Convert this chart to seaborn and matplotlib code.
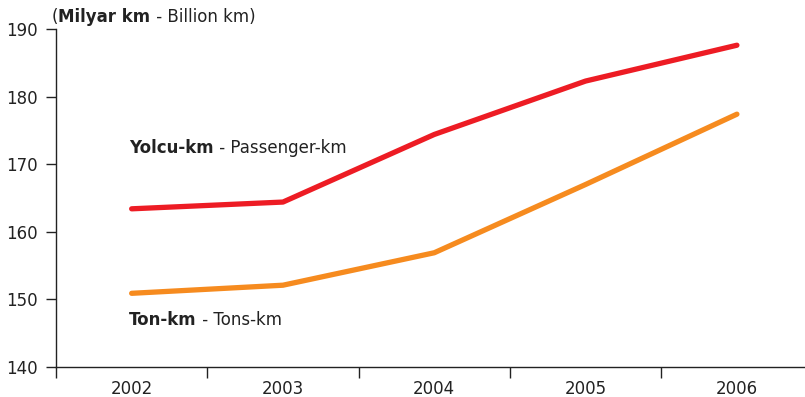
import matplotlib
matplotlib.use("Agg")
import matplotlib.pyplot as plt
import seaborn as sns
import pandas as pd

years = ["2002", "2003", "2004", "2005", "2006"]
passenger_km = [163.4, 164.4, 174.4, 182.3, 187.6]
tons_km = [150.9, 152.1, 156.9, 167.0, 177.4]

sns.set_style("white")
plt.rcParams["font.family"] = ["DejaVu Sans"]

INK = "#222222"

df = pd.DataFrame({
    "year": years * 2,
    "pos": list(range(len(years))) * 2,
    "value": passenger_km + tons_km,
    "series": ["Yolcu-km"] * len(years) + ["Ton-km"] * len(years),
})

fig = plt.figure(figsize=(8.05, 3.97), dpi=100)
ax = fig.add_axes([56 / 805, 1 - 367 / 397, 749 / 805, (367 - 29) / 397])

palette = {"Yolcu-km": "#ED1C24", "Ton-km": "#F68B1F"}
sns.lineplot(data=df, x="pos", y="value", hue="series", palette=palette,
             linewidth=3.8, ax=ax, legend=False, solid_capstyle="round")

ax.set_xlim(-0.5, 4.45)
ax.set_ylim(140, 190)
ax.set_yticks([140, 150, 160, 170, 180, 190])
ax.set_xticks(range(len(years)))
ax.set_xticklabels(years)
ax.set_xticks([i - 0.5 for i in range(len(years))], minor=True)
ax.tick_params(axis="x", which="major", bottom=True, length=0, pad=9,
               labelsize=12, colors=INK)
ax.tick_params(axis="x", which="minor", bottom=True, length=8, width=1,
               color=INK, direction="out")
ax.tick_params(axis="y", left=True, length=7, width=1, color=INK, direction="out",
               labelsize=12, labelcolor=INK, pad=6)
ax.set_xlabel("")
ax.set_ylabel("")
for side in ("top", "right"):
    ax.spines[side].set_visible(False)
for side in ("left", "bottom"):
    ax.spines[side].set_color(INK)
    ax.spines[side].set_linewidth(1)

renderer = fig.canvas.get_renderer()


def mixed_text(x_px, y_px, parts):
    """Draw consecutive text runs on one baseline, each with its own weight."""
    x = x_px
    for text, weight in parts:
        t = fig.text(x / 805, 1 - y_px / 397, text, fontsize=12, fontweight=weight,
                     va="baseline", ha="left", color=INK)
        x = t.get_window_extent(renderer).x1


# unit caption
mixed_text(52, 22, [("(", "normal"), ("Milyar km", "bold"), (" - Billion km)", "normal")])

# series labels
mixed_text(129, 153, [("Yolcu-km", "bold"), (" - Passenger-km", "normal")])
mixed_text(129, 325, [("Ton-km", "bold"), (" - Tons-km", "normal")])

fig.savefig("out.png", dpi=100)
